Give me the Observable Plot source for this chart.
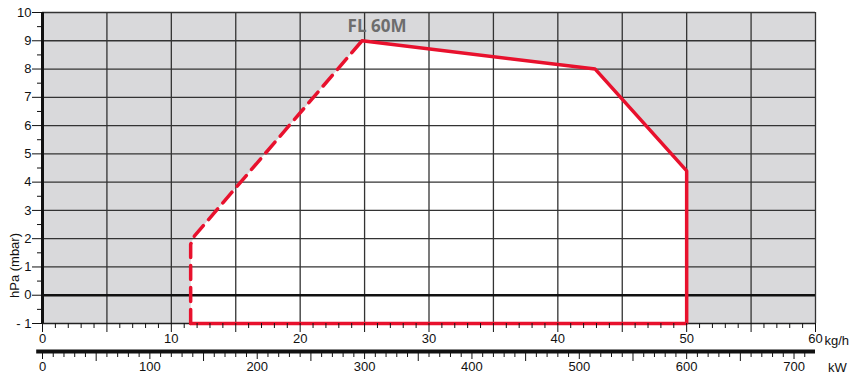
<!DOCTYPE html>
<html><head><meta charset="utf-8">
<script src="https://cdn.jsdelivr.net/npm/d3@7"></script>
<script src="https://cdn.jsdelivr.net/npm/@observablehq/plot@0.6"></script>
<style>
html,body{margin:0;padding:0;background:#fff;}
#chart svg{display:block;font-family:'Liberation Sans', Arial, sans-serif;}
</style></head><body><div id="chart"></div>
<script>
// Working range polygon of burner FL 60M (x: kg/h, y: hPa)
const rangeX = [11.5, 11.5, 11.8, 24.8, 42.9, 50, 50, 11.5];
const rangeY = [-1, 1.8, 2.1, 9, 8, 4.4, -1, -1];
const dashedCount = 4; // first vertices joined by the dashed edge
const modelName = "FL 60M";

// Axis ticks
const kgLabeled = [0, 10, 20, 30, 40, 50, 60];
const kgMid = [5, 15, 25, 35, 45, 55];
const kgMinor = d3.range(0, 61).filter(d => d % 5 !== 0);
const gridX = [5, 10, 15, 20, 25, 30, 35, 40, 45, 50, 55, 60];
const gridY = [1, 2, 3, 4, 5, 6, 7, 8, 9, 10];
const yLabeled = [-1, 0, 1, 2, 3, 4, 5, 6, 7, 8, 9, 10];
const yMinor = [-0.5, 0.5, 1.5, 2.5, 3.5, 4.5, 5.5, 6.5, 7.5, 8.5, 9.5];
const kwPerKg = 12;
const kwLabeled = [0, 100, 200, 300, 400, 500, 600, 700];
const kwMid = [50, 150, 250, 350, 450, 550, 650];
const kwMinor = d3.range(0, 711, 10).filter(d => d % 50 !== 0);

const poly = rangeX.map((x, i) => ({x, y: rangeY[i]}));
const dashed = poly.slice(0, dashedCount);
const solid = poly.slice(dashedCount - 1);
const red = "#e8112d";
const gridColor = "#333";
const blank = () => "";
const fs = 13;
const ff = "'Liberation Sans', Arial, sans-serif";

const chart = Plot.plot({
  width: 855, height: 374,
  marginLeft: 42, marginRight: 40, marginTop: 12, marginBottom: 51,
  x: {domain: [0, 60], label: null},
  y: {domain: [-1, 10], label: null},
  style: {fontFamily: ff, fontSize: "13px", color: "#111", background: "#fff"},
  marks: [
    Plot.frame({fill: "#d9d9db", stroke: null}),
    Plot.line(poly, {x: "x", y: "y", fill: "#fff", stroke: null}),
    Plot.ruleX(gridX, {stroke: gridColor, strokeWidth: 1.3}),
    Plot.ruleY(gridY, {stroke: gridColor, strokeWidth: 1.3}),
    Plot.ruleY([0], {stroke: "#111", strokeWidth: 2.5}),
    Plot.ruleY([-1], {stroke: "#222", strokeWidth: 1.5}),
    Plot.line(dashed, {x: "x", y: "y", stroke: red, strokeWidth: 3.5, strokeDasharray: "14,8"}),
    Plot.line(solid, {x: "x", y: "y", stroke: red, strokeWidth: 3.5, strokeLinejoin: "miter"}),
    Plot.ruleX([0], {y1: -1, y2: 10, stroke: "#111", strokeWidth: 3}),
    // kg/h axis
    Plot.axisX(kgLabeled, {anchor: "bottom", tickSize: 9, tickPadding: 1, tickFormat: d => d, fontSize: fs, fontFamily: ff}),
    Plot.axisX(kgMid, {anchor: "bottom", tickSize: 9, tickFormat: blank}),
    Plot.axisX(kgMinor, {anchor: "bottom", tickSize: 5, tickFormat: blank}),
    Plot.text(["kg/h"], {frameAnchor: "bottom-right", dx: 9, dy: 17, textAnchor: "start", lineAnchor: "middle", fontSize: fs, fontFamily: ff}),
    // kW axis
    Plot.ruleY([-1], {x1: -0.45, x2: 60, dy: 28, stroke: "#111", strokeWidth: 4}),
    Plot.axisX(kwLabeled.map(k => k / kwPerKg), {anchor: "bottom", dy: 28, tickSize: 8, tickPadding: 2, tickFormat: d => Math.round(d * kwPerKg), fontSize: fs, fontFamily: ff}),
    Plot.axisX(kwMid.map(k => k / kwPerKg), {anchor: "bottom", dy: 28, tickSize: 10, tickFormat: blank}),
    Plot.axisX(kwMinor.map(k => k / kwPerKg), {anchor: "bottom", dy: 28, tickSize: 6, tickFormat: blank}),
    Plot.text(["kW"], {frameAnchor: "bottom-right", dx: 22, dy: 44, textAnchor: "middle", lineAnchor: "middle", fontSize: fs, fontFamily: ff}),
    // y axis
    Plot.axisY(yLabeled, {anchor: "left", tickSize: 10, tickPadding: 1, tickFormat: d => d < 0 ? "- " + (-d) : d, fontSize: fs, fontFamily: ff}),
    Plot.axisY(yMinor, {anchor: "left", tickSize: 5, tickFormat: blank}),
    Plot.text(["hPa (mbar)"], {frameAnchor: "bottom-left", dx: -28, dy: -58, rotate: -90, textAnchor: "middle", lineAnchor: "middle", fontSize: fs, fontFamily: ff}),
    // model label at the peak
    Plot.text([poly[dashedCount - 1]], {x: "x", y: "y", text: () => modelName, dx: 15, dy: -14,
      fontFamily: "'Open Sans', sans-serif", fontWeight: "bold", fontSize: 17, fill: "#6d6d6d"})
  ]
});
document.getElementById("chart").appendChild(chart);
</script></body></html>
